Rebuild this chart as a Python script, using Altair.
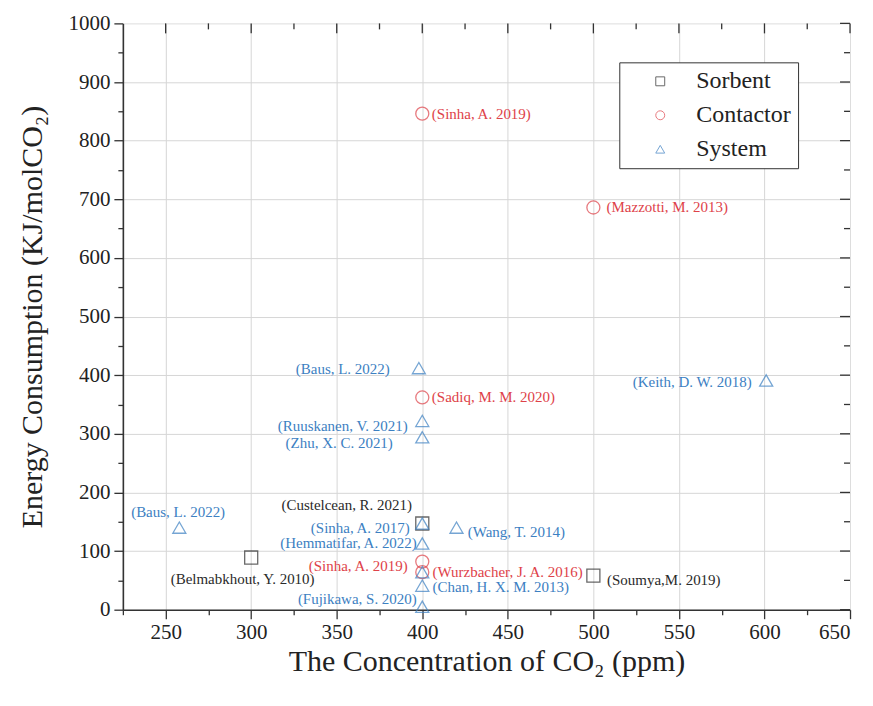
import altair as alt
import pandas as pd

# ---------------- data ----------------
categories = ["Sorbent", "Contactor", "System"]

sorbent_x = [300, 400, 500]
sorbent_y = [89, 147, 58]

contactor_x = [400, 500, 400, 400, 400]
contactor_y = [846, 686, 362, 82, 64]

system_x = [398, 400, 400, 601, 258, 400, 420, 400, 400, 400, 400]
system_y = [412, 322, 294, 391, 140, 147, 140, 113, 64, 41, 5]

label_text = [
    "(Belmabkhout, Y. 2010)", "(Custelcean, R. 2021)", "(Soumya,M. 2019)",
    "(Sinha, A. 2019)", "(Mazzotti, M. 2013)", "(Sadiq, M. M. 2020)",
    "(Sinha, A. 2019)", "(Wurzbacher, J. A. 2016)",
    "(Baus, L. 2022)", "(Ruuskanen, V. 2021)", "(Zhu, X. C. 2021)",
    "(Keith, D. W. 2018)", "(Baus, L. 2022)", "(Sinha, A. 2017)",
    "(Wang, T. 2014)", "(Hemmatifar, A. 2022)", "(Chan, H. X. M. 2013)",
    "(Fujikawa, S. 2020)",
]
label_type = [
    "Sorbent", "Sorbent", "Sorbent",
    "Contactor", "Contactor", "Contactor", "Contactor", "Contactor",
    "System", "System", "System", "System", "System", "System",
    "System", "System", "System", "System",
]
label_x = [295, 394, 508, 405.6, 507.7, 405.6, 391.5, 406,
           381, 391.5, 382.8, 592.5, 257.3, 392.7, 426.6, 396.8, 406, 396.8]
label_y = [52, 178, 50, 846, 686, 362, 74, 64,
           411, 313, 285, 388, 166, 139, 132, 113, 38, 19]
label_side = ["C", "R", "L", "L", "L", "L", "R", "L",
              "R", "R", "R", "R", "C", "R", "L", "R", "L", "R"]

x_major_ticks = [250, 300, 350, 400, 450, 500, 550, 600, 650]
x_minor_ticks = [275, 325, 375, 425, 475, 525, 575, 625]
y_major_ticks = [0, 100, 200, 300, 400, 500, 600, 700, 800, 900, 1000]
y_minor_ticks = [50, 150, 250, 350, 450, 550, 650, 750, 850, 950]

# ---------------- tables ----------------
pts = pd.DataFrame({
    "x": sorbent_x + contactor_x + system_x,
    "y": sorbent_y + contactor_y + system_y,
    "type": ["Sorbent"] * len(sorbent_x) + ["Contactor"] * len(contactor_x) + ["System"] * len(system_x),
})
labs = pd.DataFrame({"x": label_x, "y": label_y, "text": label_text,
                     "type": label_type, "side": label_side})

FONT = "Liberation Serif"
DARK = "#333333"
COLORS = ["#2a2a2a", "#de4249", "#3c80c2"]

x_scale = alt.Scale(domain=[225, 650], nice=False, zero=False)
y_scale = alt.Scale(domain=[0, 1000], nice=False, zero=False)
color_scale = alt.Scale(domain=categories, range=COLORS)
shape_scale = alt.Scale(domain=categories, range=["square", "circle", "triangle-up"])

x_vals = sorted(x_major_ticks + x_minor_ticks + [225])
y_vals = sorted(y_major_ticks + y_minor_ticks)

x_axis = alt.Axis(
    values=x_vals,
    labelExpr="datum.value % 50 === 0 ? '' + datum.value : ''",
    tickSize={"condition": {"test": "datum.value % 50 === 0", "value": 9}, "value": 5},
    gridOpacity={"condition": {"test": "datum.value % 50 === 0 && datum.value < 650", "value": 1}, "value": 0},
    grid=True, gridColor="#d6d6d6", gridWidth=1,
    labelFont=FONT, labelFontSize=21, labelColor="#222", labelPadding=3,
    titleFont=FONT, titleFontSize=30, titleFontWeight="normal", titleColor="#222", titlePadding=4,
    domainColor=DARK, domainWidth=1.6, tickColor=DARK, tickWidth=1.3,
)
y_axis = alt.Axis(
    values=y_vals,
    labelExpr="datum.value % 100 === 0 ? '' + datum.value : ''",
    tickSize={"condition": {"test": "datum.value % 100 === 0", "value": 9}, "value": 5},
    gridOpacity={"condition": {"test": "datum.value % 100 === 0 && datum.value > 0 && datum.value < 1000", "value": 1}, "value": 0},
    grid=True, gridColor="#d6d6d6", gridWidth=1,
    labelFont=FONT, labelFontSize=21, labelColor="#222", labelPadding=4,
    titleFont=FONT, titleFontSize=30, titleFontWeight="normal", titleColor="#222", titlePadding=20,
    domainColor=DARK, domainWidth=1.6, tickColor=DARK, tickWidth=1.3,
)

X = alt.X("x:Q", scale=x_scale, axis=x_axis, title="The Concentration of CO₂ (ppm)")
Y = alt.Y("y:Q", scale=y_scale, axis=y_axis, title="Energy Consumption (KJ/molCO₂)")

legend = alt.Legend(
    title=None, orient="none", legendX=497, legendY=39,
    strokeColor=DARK, fillColor="white", padding=7,
    labelFont=FONT, labelFontSize=24, labelColor="#222",
    symbolSize=80, symbolStrokeWidth=1, symbolOffset=22, labelOffset=24,
    rowPadding=10,
)

points = alt.Chart(pts).mark_point(filled=False, size=170, strokeWidth=1.3).encode(
    x=X, y=Y,
    color=alt.Color("type:N", scale=color_scale, legend=legend, title=None),
    shape=alt.Shape("type:N", scale=shape_scale, legend=legend, title=None),
)

label_color = {
    "condition": [
        {"test": f"datum.type === '{categories[0]}'", "value": COLORS[0]},
        {"test": f"datum.type === '{categories[1]}'", "value": COLORS[1]},
    ],
    "value": COLORS[2],
}

def label_layer(side, align):
    return alt.Chart(labs).transform_filter(f"datum.side === '{side}'").mark_text(
        font=FONT, fontSize=15, align=align, baseline="middle"
    ).encode(
        x=X, y=Y, text="text:N",
        color=label_color,
    )

# mirrored (inward) ticks on top and right
top_major = alt.Chart(pd.DataFrame({"x": x_major_ticks})).mark_rule(color=DARK, strokeWidth=1.3).encode(
    x=X, y=alt.value(0), y2=alt.value(10))
top_minor = alt.Chart(pd.DataFrame({"x": x_minor_ticks})).mark_rule(color=DARK, strokeWidth=1.3).encode(
    x=X, y=alt.value(0), y2=alt.value(6))
right_major = alt.Chart(pd.DataFrame({"y": y_major_ticks})).mark_rule(color=DARK, strokeWidth=1.3).encode(
    y=Y, x=alt.value(728), x2=alt.value(718))
right_minor = alt.Chart(pd.DataFrame({"y": y_minor_ticks})).mark_rule(color=DARK, strokeWidth=1.3).encode(
    y=Y, x=alt.value(728), x2=alt.value(722))

chart = alt.layer(
    top_major, top_minor, right_major, right_minor,
    points,
    label_layer("L", "left"), label_layer("R", "right"), label_layer("C", "center"),
).properties(
    width=728, height=587,
    padding={"left": 115, "top": 15, "right": 15, "bottom": 80},
    autosize=alt.AutoSizeParams(type="none"),
).configure_view(
    stroke=DARK, strokeWidth=1.6
).configure(background="white")

chart.save("out.html", embed_options={"renderer": "svg", "actions": False})
